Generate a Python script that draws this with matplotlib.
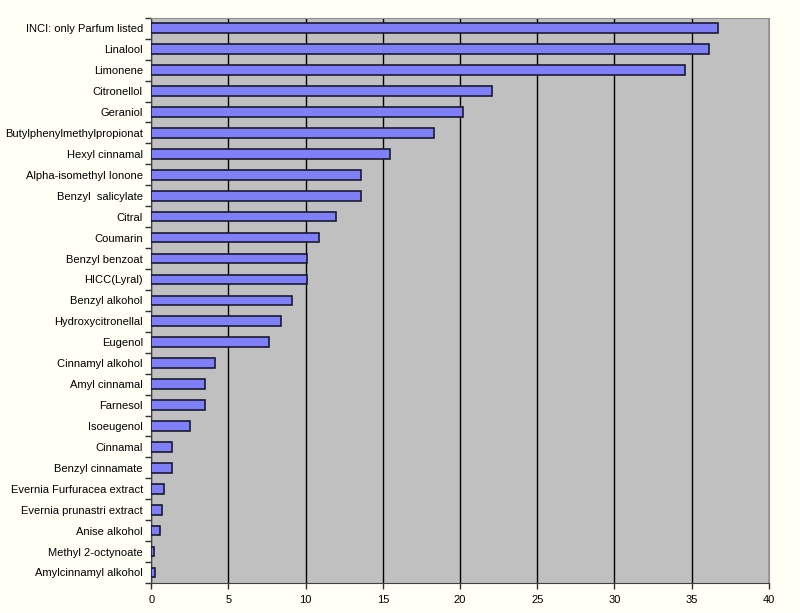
import matplotlib
matplotlib.use('Agg')
import matplotlib.pyplot as plt
import numpy as np

# Data (top to bottom as shown)
labels = ['INCI: only Parfum listed', 'Linalool', 'Limonene', 'Citronellol', 'Geraniol',
          'Butylphenylmethylpropionat', 'Hexyl cinnamal', 'Alpha-isomethyl Ionone',
          'Benzyl  salicylate', 'Citral', 'Coumarin', 'Benzyl benzoat', 'HICC(Lyral)',
          'Benzyl alkohol', 'Hydroxycitronellal', 'Eugenol', 'Cinnamyl alkohol',
          'Amyl cinnamal', 'Farnesol', 'Isoeugenol', 'Cinnamal', 'Benzyl cinnamate',
          'Evernia Furfuracea extract', 'Evernia prunastri extract', 'Anise alkohol',
          'Methyl 2-octynoate', 'Amylcinnamyl alkohol']
values = [36.7, 36.1, 34.6, 22.05, 20.2, 18.3, 15.45, 13.6, 13.6, 12.0, 10.9, 10.1, 10.1,
          9.15, 8.4, 7.6, 4.1, 3.5, 3.5, 2.5, 1.33, 1.33, 0.86, 0.71, 0.56, 0.2, 0.22]
xticks = [0, 5, 10, 15, 20, 25, 30, 35, 40]

plt.rcParams['font.family'] = ['Liberation Sans', 'DejaVu Sans']

fig = plt.figure(figsize=(8, 6.13), dpi=100, facecolor='#fffff6')
ax = fig.add_axes([0.189, 0.049, 0.772, 0.922])
ax.set_facecolor('#c0c0c0')

n = len(labels)
ypos = np.arange(n)[::-1]
ax.barh(ypos, values, height=0.46, color='#7f7ff8', edgecolor='#1a1a33', linewidth=1.2, zorder=3)

ax.set_xlim(0, 40)
ax.set_ylim(-0.5, n - 0.5)
ax.set_xticks(xticks)
ax.set_xticklabels([str(t) for t in xticks], fontsize=8)
ax.set_yticks(ypos)
ax.set_yticklabels(labels, fontsize=8)
ax.tick_params(axis='y', length=0, pad=6)
ax.set_yticks(np.arange(n + 1) - 0.5, minor=True)
ax.tick_params(axis='y', which='minor', length=4, width=1, color='#303030')
ax.tick_params(axis='x', length=4, width=1, color='#303030', pad=5)

ax.grid(axis='x', color='black', linewidth=1.0, zorder=1)
ax.set_axisbelow(True)

for side in ['top', 'right']:
    ax.spines[side].set_color('#909090')
for side in ['left', 'bottom']:
    ax.spines[side].set_color('#404040')

fig.savefig('out.png', dpi=100, facecolor=fig.get_facecolor())
